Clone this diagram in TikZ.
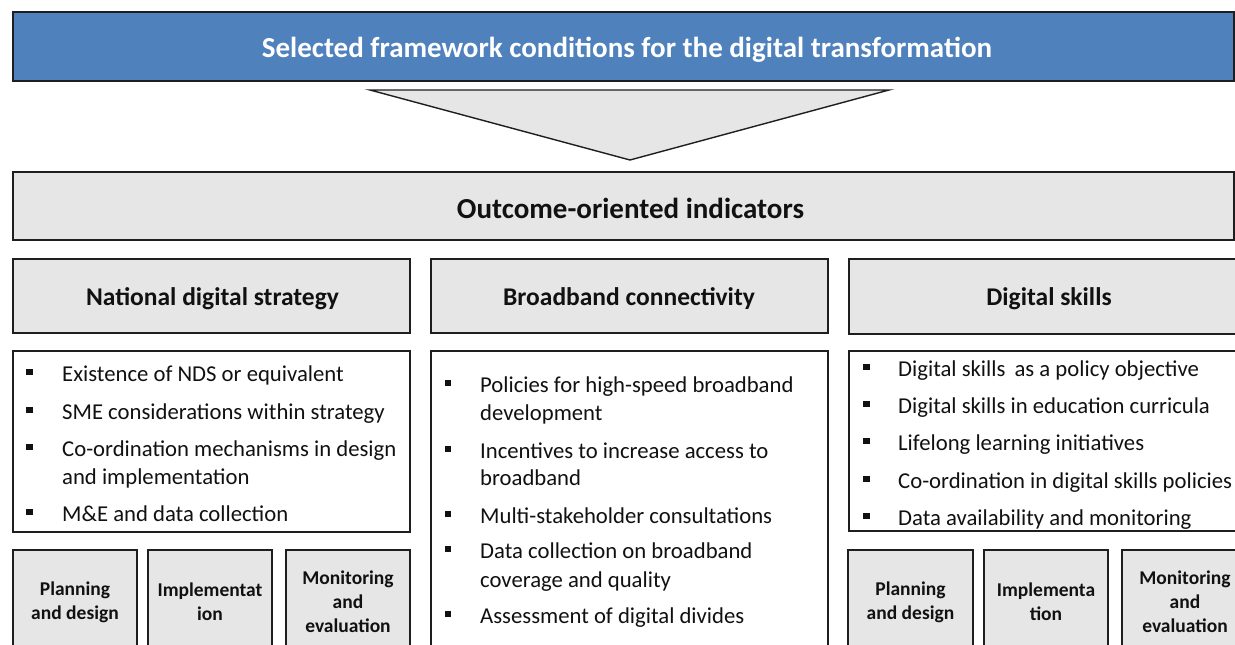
\documentclass[tikz,border=0pt]{standalone}
\usepackage{fontspec}
\setmainfont{Carlito}
\definecolor{hdrblue}{HTML}{4F81BD}
\definecolor{panelgray}{HTML}{E6E6E6}
\definecolor{edge}{HTML}{1E1E1E}
\definecolor{ink}{HTML}{111111}
\begin{document}
\begin{tikzpicture}[x=1pt,y=-1pt,
  box/.style={draw=edge, line width=1.4pt, anchor=north west, inner sep=0pt, outer sep=0pt},
  bluebox/.style={box, fill=hdrblue},
  graybox/.style={box, fill=panelgray},
  whitebox/.style={box, fill=white},
  titletext/.style={anchor=base, text=white, inner sep=0pt, font=\fontsize{29}{35}\selectfont\bfseries},
  bigtext/.style={anchor=base, text=ink, inner sep=0pt, font=\fontsize{29}{35}\selectfont\bfseries},
  headtext/.style={anchor=base, text=ink, inner sep=0pt, font=\fontsize{25.5}{30}\selectfont\bfseries},
  itemtext/.style={anchor=base west, text=ink, inner sep=0pt, font=\fontsize{22.7}{27.5}\selectfont},
  bulletsq/.style={fill=ink, draw=none, inner sep=0pt, minimum size=6.5pt},
  smallbox/.style={graybox, minimum height=104pt, align=center, text=ink, font=\fontsize{19.5}{24}\selectfont\bfseries},
  arrowtri/.style={draw=edge, line width=1.4pt, fill=panelgray, line join=miter}
]
\useasboundingbox (0,0) rectangle (1235,645);
\clip (0,0) rectangle (1235,645);

% top banner
\node[bluebox, minimum width=1221pt, minimum height=69pt] (banner) at (13,12) {};
\node[titletext] (bannertxt) at (627,57) {Selected framework conditions for the digital transformation};

% down arrow (triangle)
\coordinate (triL) at (370,90);
\coordinate (triR) at (889,90);
\coordinate (triT) at (630,160);
\draw[arrowtri] (triL) -- (triR) -- (triT) -- cycle;

% outcome box
\node[graybox, minimum width=1221pt, minimum height=68pt] (outcome) at (13,172) {};
\node[bigtext] (outcometxt) at (630.5,218) {Outcome-oriented indicators};

% column headers
\node[graybox, minimum width=397pt, minimum height=74pt] (hNDS) at (13,259) {};
\node[graybox, minimum width=397pt, minimum height=74pt] (hBB) at (431,259) {};
\node[graybox, minimum width=400pt, minimum height=75pt] (hDS) at (849,259) {};
\node[headtext] (hNDStxt) at (212.5,305) {National digital strategy};
\node[headtext] (hBBtxt) at (629,305) {Broadband connectivity};
\node[headtext] (hDStxt) at (1049,305) {Digital skills};

% list boxes
\node[whitebox, minimum width=397pt, minimum height=181pt] (lNDS) at (13,351) {};
\node[whitebox, minimum width=397pt, minimum height=300pt] (lBB) at (431,351) {};
\node[whitebox, minimum width=400pt, minimum height=180pt] (lDS) at (849,351) {};

% NDS items
\node[bulletsq] (nb1) at (29.5,372) {};
\node[itemtext] (nt1) at (62,381) {Existence of NDS or equivalent};
\node[bulletsq] (nb2) at (29.5,410) {};
\node[itemtext] (nt2) at (62,419) {SME considerations within strategy};
\node[bulletsq] (nb3) at (29.5,447) {};
\node[itemtext] (nt3) at (62,456) {Co-ordination mechanisms in design};
\node[itemtext] (nt3b) at (62,484) {and implementation};
\node[bulletsq] (nb4) at (29.5,512) {};
\node[itemtext] (nt4) at (62,521) {M\&E and data collection};

% Broadband items
\node[bulletsq] (bb1) at (448,383) {};
\node[itemtext] (bt1) at (480,392) {Policies for high-speed broadband};
\node[itemtext] (bt1b) at (480,420) {development};
\node[bulletsq] (bb2) at (448,449) {};
\node[itemtext] (bt2) at (480,458) {Incentives to increase access to};
\node[itemtext] (bt2b) at (480,485) {broadband};
\node[bulletsq] (bb3) at (448,514) {};
\node[itemtext] (bt3) at (480,523) {Multi-stakeholder consultations};
\node[bulletsq] (bb4) at (448,549) {};
\node[itemtext] (bt4) at (480,558) {Data collection on broadband};
\node[itemtext] (bt4b) at (480,587) {coverage and quality};
\node[bulletsq] (bb5) at (448,614) {};
\node[itemtext] (bt5) at (480,623) {Assessment of digital divides};

% Digital skills items
\node[bulletsq] (db1) at (866.5,367) {};
\node[itemtext] (dt1) at (898,376) {Digital skills\hspace{4pt} as a policy objective};
\node[bulletsq] (db2) at (866.5,404) {};
\node[itemtext] (dt2) at (898,413) {Digital skills in education curricula};
\node[bulletsq] (db3) at (866.5,441) {};
\node[itemtext] (dt3) at (898,450) {Lifelong learning initiatives};
\node[bulletsq] (db4) at (866.5,479) {};
\node[itemtext] (dt4) at (898,488) {Co-ordination in digital skills policies};
\node[bulletsq] (db5) at (866.5,516) {};
\node[itemtext] (dt5) at (898,525) {Data availability and monitoring};

% bottom stage boxes, NDS
\node[smallbox, minimum width=124pt] (sN1) at (13,550) {Planning\\and design};
\node[smallbox, minimum width=124pt] (sN2) at (148,550) {Implementat\\ion};
\node[smallbox, minimum width=124pt] (sN3) at (286,550) {Monitoring\\and\\evaluation};

% bottom stage boxes, DS
\node[smallbox, minimum width=125pt] (sD1) at (848,550) {Planning\\and design};
\node[smallbox, minimum width=124pt] (sD2) at (984,550) {Implementa\\tion};
\node[smallbox, minimum width=126pt] (sD3) at (1122,550) {Monitoring\\and\\evaluation};
\end{tikzpicture}
\end{document}
